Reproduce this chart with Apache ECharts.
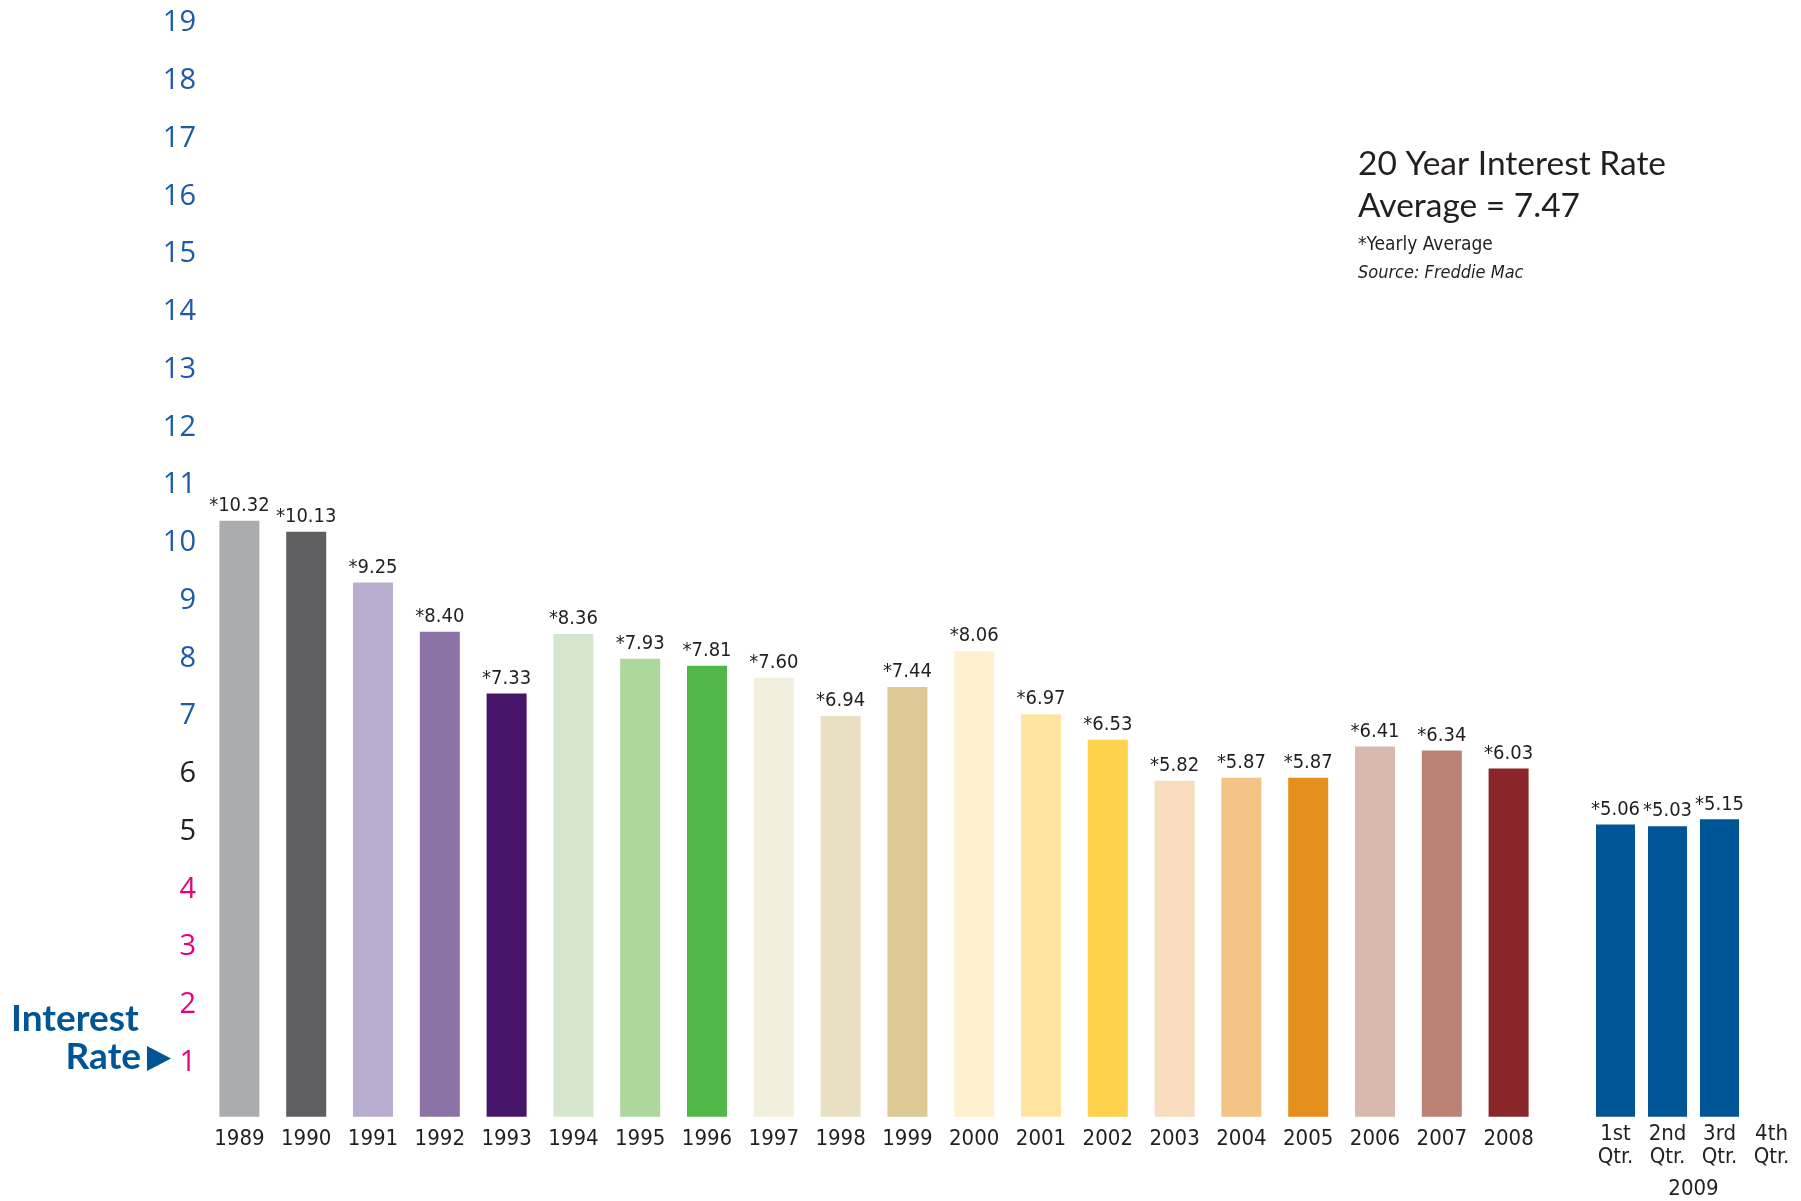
<!DOCTYPE html>
<html>
<head>
<meta charset="utf-8">
<script src="https://cdn.jsdelivr.net/npm/echarts@6/dist/echarts.min.js"></script>
<style>
html,body{margin:0;padding:0;background:#fff;}
#chart{width:1801px;height:1201px;}
</style>
</head>
<body>
<div id="chart"></div>
<script>
const years = ['1989','1990','1991','1992','1993','1994','1995','1996','1997','1998','1999','2000','2001','2002','2003','2004','2005','2006','2007','2008'];
const yearRates = [10.32,10.13,9.25,8.40,7.33,8.36,7.93,7.81,7.60,6.94,7.44,8.06,6.97,6.53,5.82,5.87,5.87,6.41,6.34,6.03];
const quarters = ['1st\nQtr.','2nd\nQtr.','3rd\nQtr.','4th\nQtr.'];
const quarterRates = [5.06,5.03,5.15,null];
const quarterYear = '2009';
const yMin = 0, yMax = 19, yStep = 1;
const titleLines = ['20 Year Interest Rate','Average = 7.47'];
const noteLine = '*Yearly Average';
const sourceLine = 'Source: Freddie Mac';
const yearColors = ['#abacb0','#5f5f62','#b9aecf','#8b74a5','#461469','#d4e7cc','#acd79d','#50b848','#f3efdf','#e9e0c2','#dcc993','#fff1d0','#fee49f','#fed24c','#f9dbbd','#f3c486','#e5901c','#d9b9ae','#bb8274','#8a2529'];
const quarterColor = '#005596';

const narrow = "'DejaVu Sans Condensed','DejaVu Sans',sans-serif";
const dark = '#231f20';

function yLabelColor(v){
  v = Number(v);
  if (v >= 7) return '#1d5aa8';
  if (v >= 5) return '#231f20';
  return '#e5007d';
}
const barLabel = {
  show: true, position: 'top', distance: 5,
  fontFamily: narrow, fontSize: 20, color: dark,
  formatter: p => p.value == null ? '' : '*' + Number(p.value).toFixed(2)
};

const chart = echarts.init(document.getElementById('chart'));
chart.setOption({
  animation: false,
  backgroundColor: '#fff',
  grid: [
    {left: 206, top: 19.5, width: 1336, height: 1097.25, outerBoundsMode: 'none', containLabel: false},
    {left: 1589.5, top: 19.5, width: 208, height: 1097.25, outerBoundsMode: 'none', containLabel: false}
  ],
  xAxis: [
    {type: 'category', gridIndex: 0, data: years,
     axisLine: {show: false}, axisTick: {show: false},
     axisLabel: {interval: 0, margin: 12, fontFamily: narrow, fontSize: 22, color: dark}},
    {type: 'category', gridIndex: 1, data: quarters,
     name: quarterYear, nameLocation: 'middle', nameGap: 62,
     nameTextStyle: {fontFamily: narrow, fontSize: 22, color: dark},
     axisLine: {show: false}, axisTick: {show: false},
     axisLabel: {interval: 0, margin: 6, fontFamily: narrow, fontSize: 22, lineHeight: 23, color: dark}}
  ],
  yAxis: [
    {type: 'value', gridIndex: 0, min: yMin, max: yMax, interval: yStep,
     axisLine: {show: false}, axisTick: {show: false}, splitLine: {show: false},
     axisLabel: {showMinLabel: false, margin: 10, fontFamily: "'Open Sans',sans-serif", fontSize: 29,
       formatter: v => '{v|' + v + '}',
       rich: {v: {padding: [7, 0, 0, 0], fontFamily: "'Open Sans',sans-serif", fontSize: 29}},
       color: (v) => yLabelColor(v)}},
    {type: 'value', gridIndex: 1, min: yMin, max: yMax, interval: yStep, show: false}
  ],
  series: [
    {type: 'bar', xAxisIndex: 0, yAxisIndex: 0, data: yearRates, barWidth: 40,
     itemStyle: {color: p => yearColors[p.dataIndex]}, label: barLabel},
    {type: 'bar', xAxisIndex: 1, yAxisIndex: 1, data: quarterRates, barWidth: 39,
     itemStyle: {color: quarterColor}, label: barLabel}
  ],
  graphic: [
    {type: 'text', left: 1358, top: 147, style: {text: titleLines[0], font: "33.5px Lato, sans-serif", fill: dark}},
    {type: 'text', left: 1358, top: 189, style: {text: titleLines[1], font: "33.5px Lato, sans-serif", fill: dark}},
    {type: 'text', left: 1358, top: 236, style: {text: noteLine, font: "19px " + narrow, fill: dark}},
    {type: 'text', left: 1358, top: 264, style: {text: sourceLine, font: "italic 18px " + narrow, fill: dark}},
    {type: 'text', left: 11, top: 1001, style: {text: 'Interest', font: "bold 37px Lato, sans-serif", fill: '#005596'}},
    {type: 'text', right: 1801 - 141, top: 1039, style: {text: 'Rate', font: "bold 37px Lato, sans-serif", fill: '#005596'}},
    {type: 'polygon', shape: {points: [[147,1046],[171,1058.5],[147,1071]]}, style: {fill: '#005596'}}
  ]
});
</script>
</body>
</html>
